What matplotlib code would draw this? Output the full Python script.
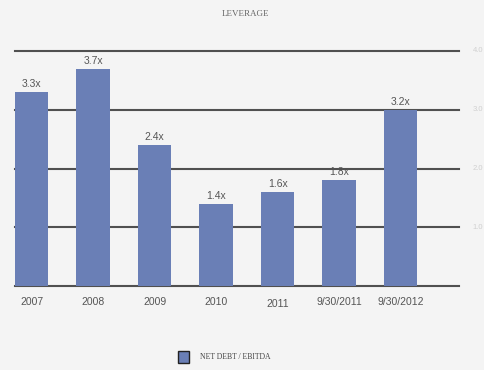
import matplotlib
matplotlib.use("Agg")
import matplotlib.pyplot as plt
from matplotlib.patches import Rectangle

categories = ["2007", "2008", "2009", "2010", "2011", "9/30/2011", "9/30/2012"]
values = [3.3, 3.7, 2.4, 1.4, 1.6, 1.8, 3.0]
value_labels = ["3.3x", "3.7x", "2.4x", "1.4x", "1.6x", "1.8x", "3.2x"]
y_ticks = [1.0, 2.0, 3.0, 4.0]
y_tick_labels = ["1.0", "2.0", "3.0", "4.0"]
title = "LEVERAGE"
legend_label = "NET DEBT / EBITDA"

bar_color = "#6a7fb6"
bg = "#f4f4f4"

fig = plt.figure(figsize=(4.84, 3.70), dpi=100, facecolor=bg)
ax = fig.add_axes([15/484, (370-286)/370, (459-15)/484, (286-51)/370])
ax.set_facecolor(bg)

x = list(range(len(categories)))
ax.bar(x, values, width=0.54, color=bar_color, zorder=3)
ax.set_xlim(-0.27, 6.95)
ax.set_ylim(0, 4.0)

for yv in [0.0] + y_ticks:
    ax.axhline(yv, color="#505050", lw=1.5, zorder=2, clip_on=False)

for xi, v, lab in zip(x, values, value_labels):
    ax.annotate(lab, (xi, v), xytext=(0, 2), textcoords="offset points",
                ha="center", va="bottom", fontsize=7.5, color="#555555",
                family="Liberation Sans")

for s in ax.spines.values():
    s.set_visible(False)
ax.set_xticks([])
ax.set_yticks([])

for xi, lab in zip(x, categories):
    dy = -1.5 if lab == "2011" else 0
    ax.annotate(lab, (xi, 0), xytext=(0, -8 + dy), textcoords="offset points",
                ha="center", va="top", fontsize=7.5, color="#555555",
                family="Liberation Sans", annotation_clip=False)

for yv, lab in zip(y_ticks, y_tick_labels):
    ax.annotate(lab, (1.0, yv), xycoords=("axes fraction", "data"),
                xytext=(10, 0), textcoords="offset points",
                ha="left", va="center", fontsize=5.5, color="#d0d0d0",
                family="Liberation Sans", annotation_clip=False)

fig.text(245/484, 1 - 14/370, title, ha="center", va="center",
         fontsize=6.5, color="#666666", family="Liberation Serif")

fig.patches.append(Rectangle((178/484, 1 - 363/370), 11/484, 12/370,
                             transform=fig.transFigure, facecolor=bar_color,
                             edgecolor="#222222", lw=1.0))
fig.text(200/484, 1 - 357/370, legend_label, ha="left", va="center",
         fontsize=5.5, color="#444444", family="Liberation Serif")

fig.savefig("out.png", dpi=100, facecolor=bg)
